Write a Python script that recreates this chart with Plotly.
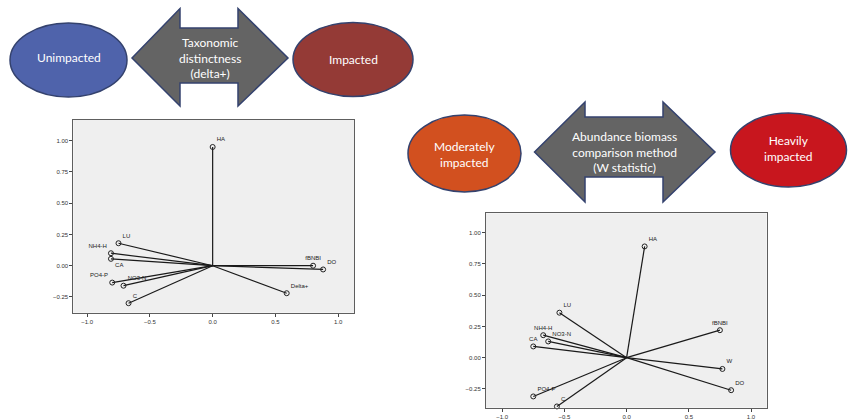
import plotly.graph_objects as go

W, H = 848, 419

# ---------------- data ----------------
left_vars = ["HA", "LU", "NH4-H", "CA", "PO4-P", "NO3-N", "C", "fBNBI", "DO", "Delta+"]
left_x = [0.0, -0.75, -0.81, -0.81, -0.80, -0.71, -0.67, 0.80, 0.88, 0.59]
left_y = [0.95, 0.18, 0.10, 0.055, -0.135, -0.16, -0.30, 0.0, -0.03, -0.22]
left_textpos = ["top right", "top right", "top left", "bottom right", "top left",
                "top right", "top right", "top center", "top right", "top right"]

right_vars = ["HA", "LU", "NH4-H", "NO3-N", "CA", "PO4-P", "C", "fBNBI", "W", "DO"]
right_x = [0.145, -0.54, -0.67, -0.63, -0.75, -0.75, -0.56, 0.75, 0.77, 0.84]
right_y = [0.89, 0.36, 0.18, 0.13, 0.09, -0.31, -0.39, 0.22, -0.09, -0.26]
right_textpos = ["top right", "top right", "top center", "top right", "top center",
                 "top right", "top right", "top center", "top right", "top right"]

x_ticks = [-1.0, -0.5, 0.0, 0.5, 1.0]
y_ticks = [-0.25, 0.0, 0.25, 0.5, 0.75, 1.0]


def px(x):
    return x / W


def py(y):
    return 1 - y / H


def vec(xs, ys):
    vx, vy = [], []
    for a, b in zip(xs, ys):
        vx += [0, a, None]
        vy += [0, b, None]
    return vx, vy


fig = go.Figure()

for (xs, ys, names, tpos, xa, ya) in [
    (left_x, left_y, left_vars, left_textpos, "x", "y"),
    (right_x, right_y, right_vars, right_textpos, "x2", "y2"),
]:
    vx, vy = vec(xs, ys)
    fig.add_trace(go.Scatter(x=vx, y=vy, mode="lines", xaxis=xa, yaxis=ya,
                             line=dict(color="#1a1a1a", width=1.2),
                             hoverinfo="skip", showlegend=False))
    fig.add_trace(go.Scatter(x=xs, y=ys, mode="markers+text", xaxis=xa, yaxis=ya,
                             text=names, textposition=tpos,
                             textfont=dict(family="Arial", size=6, color="#222222"),
                             marker=dict(symbol="circle-open", size=5,
                                         color="#222222", line=dict(width=1)),
                             showlegend=False, cliponaxis=False))

axis_common = dict(showgrid=False, zeroline=False, showline=True, mirror=True,
                   linecolor="#5e5e5e", linewidth=1, ticks="outside", ticklen=3,
                   tickcolor="#444444", tickfont=dict(family="Arial", size=6, color="#333333"))

fig.update_layout(
    width=W, height=H, autosize=False,
    margin=dict(l=0, r=0, t=0, b=0),
    paper_bgcolor="white", plot_bgcolor="#efefef",
    showlegend=False,
    xaxis=dict(domain=[px(73.3), px(354)], range=[-1.11, 1.126], anchor="y",
               tickvals=x_ticks, tickformat=".1f", **axis_common),
    yaxis=dict(domain=[py(312.7), py(120)], range=[-0.376, 1.166], anchor="x",
               tickvals=y_ticks, tickformat=".2f", **axis_common),
    xaxis2=dict(domain=[px(486), px(766.7)], range=[-1.13, 1.126], anchor="y2",
                tickvals=x_ticks, tickformat=".1f", **axis_common),
    yaxis2=dict(domain=[py(407.7), py(213.3)], range=[-0.40, 1.155], anchor="x2",
                tickvals=y_ticks, tickformat=".2f", **axis_common),
)

border = "#34426e"
shapes = []


def ellipse(cx, cy, rx, ry, fill):
    shapes.append(dict(type="circle", xref="paper", yref="paper",
                       x0=px(cx - rx), x1=px(cx + rx), y0=py(cy + ry), y1=py(cy - ry),
                       fillcolor=fill, line=dict(color=border, width=1.5), layer="above"))


def double_arrow(xl, xr, hx1, hx2, ymid, ht, hb, st, sb, fill):
    pts = [(xl, ymid), (hx1, ht), (hx1, st), (hx2, st), (hx2, ht), (xr, ymid),
           (hx2, hb), (hx2, sb), (hx1, sb), (hx1, hb)]
    path = "M " + " L ".join(f"{px(a):.5f},{py(b):.5f}" for a, b in pts) + " Z"
    shapes.append(dict(type="path", xref="paper", yref="paper", path=path,
                       fillcolor=fill, line=dict(color=border, width=1.5), layer="above"))


ellipse(68.5, 60, 58.5, 37, "#4f63ab")
ellipse(353, 59.5, 60, 37, "#943a36")
double_arrow(132, 288, 180, 238, 58, 8.5, 106, 28, 83, "#646464")

ellipse(464.5, 153.5, 56.5, 38.5, "#d2501f")
ellipse(788.5, 150, 58, 37, "#c8161e")
double_arrow(534.5, 715, 585, 663, 152, 102, 202, 117, 177, "#646464")

fig.update_layout(shapes=shapes)

font_txt = dict(family="Lato, Open Sans, sans-serif", size=12, color="white")
anns = [
    (68.5, 57, "Unimpacted"),
    (353, 60, "Impacted"),
    (210, 58, "Taxonomic<br>distinctness<br>(delta+)"),
    (465, 154, "Moderately<br>impacted"),
    (788, 149, "Heavily<br>impacted"),
    (624, 152, "Abundance biomass<br>comparison method<br>(W statistic)"),
]
fig.update_layout(annotations=[
    dict(x=px(a), y=py(b), xref="paper", yref="paper", text=t, showarrow=False,
         font=font_txt, xanchor="center", yanchor="middle", align="center")
    for a, b, t in anns
])

fig.write_html("out.html",
               config={"displayModeBar": False},
               post_script="document.body.style.margin='0';document.body.style.overflow='hidden';")
